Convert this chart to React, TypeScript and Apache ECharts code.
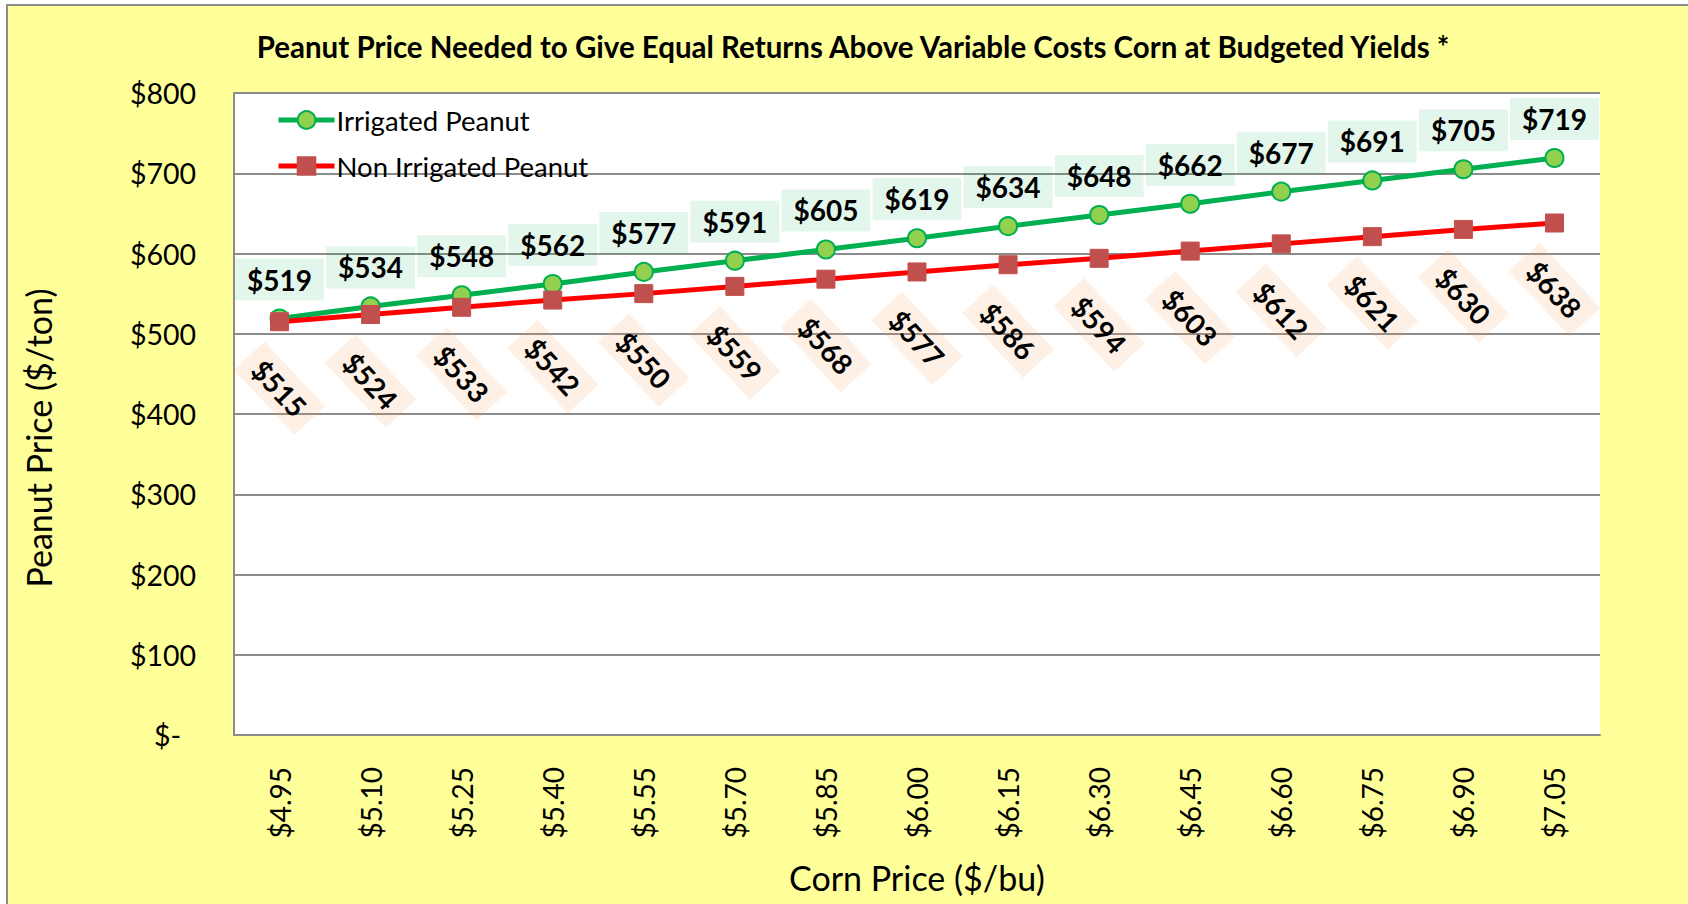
import React, { useEffect, useRef } from 'react';
import * as echarts from 'echarts';

const cornPrices = ['$4.95', '$5.10', '$5.25', '$5.40', '$5.55', '$5.70', '$5.85', '$6.00', '$6.15', '$6.30', '$6.45', '$6.60', '$6.75', '$6.90', '$7.05'];
const irrigatedPeanut = [519, 534, 548, 562, 577, 591, 605, 619, 634, 648, 662, 677, 691, 705, 719];
const nonIrrigatedPeanut = [515, 524, 533, 542, 550, 559, 568, 577, 586, 594, 603, 612, 621, 630, 638];
const yMin = 0;
const yMax = 800;
const yStep = 100;

const titleText = 'Peanut Price Needed to Give Equal Returns Above Variable Costs Corn at Budgeted Yields *';
const yTitle = 'Peanut Price ($/ton)';
const xTitle = 'Corn Price ($/bu)';

const FONT = 'Lato';

export default function App() {
  const ref = useRef<HTMLDivElement>(null);
  useEffect(() => {
    document.body.style.margin = '0';
    const chart = echarts.init(ref.current!, null, { renderer: 'svg', width: 1688, height: 904 });
    chart.setOption({
      animation: false,
      backgroundColor: '#ffffff',
      textStyle: { fontFamily: FONT },
      graphic: [
        {
          type: 'rect',
          z: -100,
          shape: { x: 7, y: 5, width: 1720, height: 940 },
          style: { fill: '#FFFF99', stroke: '#8c8c8c', lineWidth: 2 },
        },
        {
          type: 'text',
          z: 100,
          x: 853,
          y: 46,
          style: { text: titleText, font: `bold 29.5px ${FONT}`, fill: '#000', textAlign: 'center', textVerticalAlign: 'middle' },
        },
        {
          type: 'text',
          z: 100,
          x: 38,
          y: 438,
          rotation: Math.PI / 2,
          style: { text: yTitle, font: `34px ${FONT}`, fill: '#000', textAlign: 'center', textVerticalAlign: 'middle' },
        },
        {
          type: 'text',
          z: 100,
          x: 917,
          y: 877,
          style: { text: xTitle, font: `34px ${FONT}`, fill: '#000', textAlign: 'center', textVerticalAlign: 'middle' },
        },
      ],
      grid: {
        left: 234,
        top: 93,
        right: 88,
        bottom: 169,
        show: true,
        backgroundColor: '#ffffff',
        borderWidth: 0,
      },
      legend: {
        orient: 'vertical',
        left: 271,
        top: 101,
        itemWidth: 56,
        itemHeight: 22,
        itemGap: 18,
        lineStyle: { width: 5 },
        textStyle: { fontFamily: FONT, fontSize: 27.5, color: '#000', padding: [0, 0, 0, -3] },
        data: ['Irrigated Peanut', 'Non Irrigated Peanut'],
      },
      xAxis: {
        type: 'category',
        data: cornPrices,
        boundaryGap: true,
        axisLine: { lineStyle: { color: '#8c8c8c', width: 2 } },
        axisTick: { show: false },
        axisLabel: { rotate: 90, margin: 32, fontFamily: FONT, fontSize: 28, color: '#000' },
        splitLine: { show: false },
      },
      yAxis: {
        type: 'value',
        min: yMin,
        max: yMax,
        interval: yStep,
        axisLine: { show: true, lineStyle: { color: '#8c8c8c', width: 2 } },
        axisTick: { show: false },
        splitLine: { lineStyle: { color: '#8c8c8c', width: 2 } },
        axisLabel: {
          margin: 38,
          fontFamily: FONT,
          fontSize: 28.5,
          color: '#000',
          formatter: (v: number) => (v === 0 ? '{z|$-}' : '$' + v),
          rich: { z: { fontFamily: FONT, fontSize: 28.5, color: '#000', padding: [0, 15, 0, 0] } },
        },
      },
      series: [
        {
          name: 'Irrigated Peanut',
          type: 'line',
          data: irrigatedPeanut,
          symbol: 'circle',
          symbolSize: 18,
          lineStyle: { color: '#00B050', width: 5 },
          itemStyle: { color: '#92D050', borderColor: '#00B050', borderWidth: 2 },
          label: {
            show: true,
            position: 'top',
            distance: 8,
            formatter: (p: any) => '$' + p.value,
            fontFamily: FONT,
            fontWeight: 'bold',
            fontSize: 28,
            color: '#000',
            backgroundColor: 'rgba(0,176,80,0.11)',
            padding: [7, 12],
          },
        },
        {
          name: 'Non Irrigated Peanut',
          type: 'line',
          data: nonIrrigatedPeanut,
          symbol: 'rect',
          symbolSize: 18,
          lineStyle: { color: '#FF0000', width: 5 },
          itemStyle: { color: '#C0504D', borderColor: '#C0504D', borderWidth: 1 },
          label: {
            show: true,
            position: 'bottom',
            distance: 57,
            rotate: -47,
            align: 'center',
            verticalAlign: 'middle',
            formatter: (p: any) => '$' + p.value,
            fontFamily: FONT,
            fontWeight: 'bold',
            fontSize: 28,
            color: '#000',
            backgroundColor: 'rgba(247,150,70,0.14)',
            padding: [7, 12],
          },
        },
      ],
    });
    return () => chart.dispose();
  }, []);
  return <div ref={ref} style={{ position: 'absolute', left: 0, top: 0, width: 1688, height: 904 }} />;
}
